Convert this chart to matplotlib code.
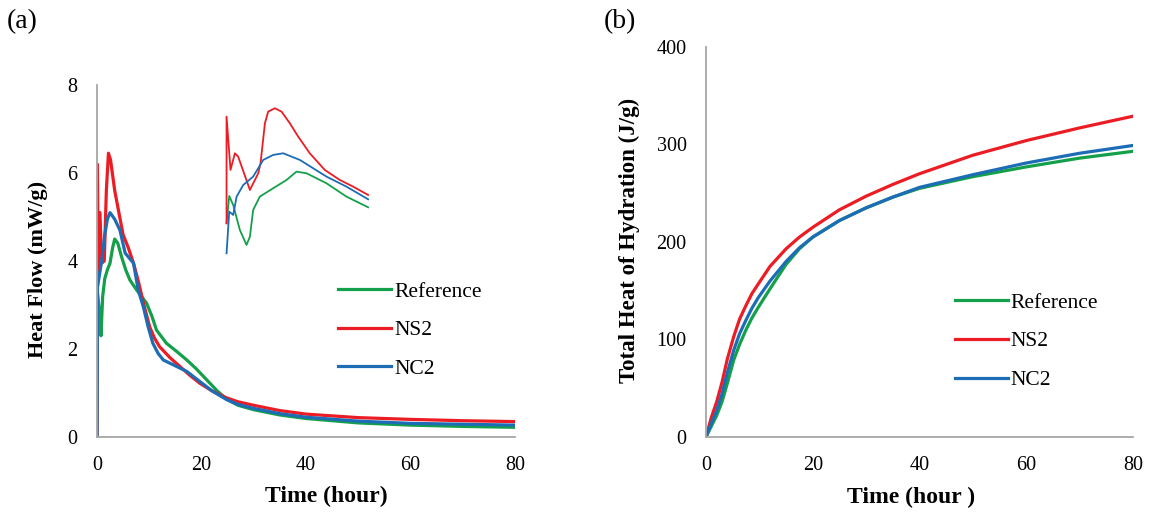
import matplotlib
matplotlib.use('Agg')
from matplotlib import pyplot as plt

plt.rcParams['font.family'] = ['Liberation Serif', 'DejaVu Serif']

labels = ['Reference', 'NS2', 'NC2']
colors = ['#14a04a', '#ec1c24', '#1c6db5']

# (a) heat flow, mW/g
t_ref = [0, 0.1, 0.45, 0.77, 1.1, 1.5, 2.0, 2.5, 3.0, 3.4, 4.0, 4.7, 5.5, 6.3, 7.6, 8.5, 9.5, 10.5,
         11.4, 13.3, 15.2, 17.2, 19.0, 21.0, 23.0, 24.8, 27, 30, 35, 40, 50, 60, 70, 80]
hf_ref = [0, 3.27, 2.9, 2.3, 3.2, 3.6, 3.8, 3.95, 4.3, 4.5, 4.4, 4.1, 3.8, 3.57, 3.34, 3.2, 3.04, 2.75,
          2.43, 2.13, 1.95, 1.75, 1.55, 1.3, 1.05, 0.86, 0.72, 0.62, 0.5, 0.42, 0.32, 0.27, 0.24, 0.22]
t_ns2 = [0, 0.08, 0.25, 0.57, 0.9, 1.4, 1.8, 2.2, 2.6, 3.4, 4.2, 5.0, 6.0, 7.0, 8.0, 8.9, 10.1,
         11.0, 12.0, 14.0, 15.9, 17.8, 19.7, 22.0, 24.8, 27, 30, 35, 40, 50, 60, 70, 80]
hf_ns2 = [0, 6.2, 3.8, 5.1, 3.95, 4.0, 5.6, 6.45, 6.3, 5.6, 5.1, 4.6, 4.3, 3.95, 3.5, 3.04, 2.5,
          2.25, 2.05, 1.8, 1.6, 1.4, 1.22, 1.05, 0.89, 0.8, 0.72, 0.6, 0.52, 0.44, 0.40, 0.37, 0.35]
t_nc2 = [0, 0.1, 0.5, 0.9, 1.5, 2.0, 2.5, 3.4, 4.4, 5.4, 7.0, 7.9, 8.9, 9.8, 10.7, 11.7, 12.7,
         14.6, 17.2, 19.7, 22.0, 24.8, 27, 30, 35, 40, 50, 60, 70, 80]
hf_nc2 = [0, 3.4, 3.7, 4.0, 4.6, 4.95, 5.1, 4.95, 4.7, 4.18, 3.95, 3.34, 2.95, 2.5, 2.13, 1.9, 1.75,
          1.64, 1.49, 1.26, 1.05, 0.85, 0.74, 0.65, 0.53, 0.45, 0.36, 0.31, 0.29, 0.27]

# inset: early-age detail
ti_ref = [0, 0.19, 0.47, 0.94, 1.41, 1.65, 1.88, 2.35, 3.29, 4.24, 4.94, 5.65, 7.06, 8.47, 10.0]
vi_ref = [1.0, 1.82, 1.55, 0.8, 0.35, 0.6, 1.4, 1.8, 2.05, 2.3, 2.55, 2.5, 2.2, 1.8, 1.48]
ti_ns2 = [0, 0, 0.28, 0.59, 0.82, 1.65, 2.24, 2.4, 2.71, 2.94, 3.41, 3.88, 4.47, 5.06, 5.88, 6.94,
          8.0, 8.94, 10.0]
vi_ns2 = [1.0, 4.2, 2.6, 3.1, 3.0, 2.0, 2.5, 2.8, 4.0, 4.35, 4.45, 4.35, 4.0, 3.6, 3.1, 2.6,
          2.3, 2.1, 1.85]
ti_nc2 = [0, 0.19, 0.47, 0.71, 1.18, 1.88, 2.59, 3.29, 4.0, 5.18, 7.06, 8.47, 10.0]
vi_nc2 = [0.1, 1.35, 1.25, 1.8, 2.15, 2.4, 2.9, 3.05, 3.1, 2.9, 2.4, 2.1, 1.72]

# (b) total heat, J/g
t_tot = [0, 1, 2, 3, 4, 5.2, 6.3, 7.5, 8.6, 9.8, 12, 15, 17.5, 20, 25, 30, 35, 40, 50, 60, 70, 80]
q_ref = [0, 11, 22, 36, 55, 79, 95, 110, 122, 133, 152, 177, 193, 205, 222, 235, 246, 255, 267, 277, 286, 293]
q_ns2 = [0, 20, 36, 56, 80, 103, 121, 135, 147, 157, 175, 193, 205, 215, 233, 247, 259, 270, 289, 304, 317, 329]
q_nc2 = [0, 14, 27, 44, 66, 89, 106, 120, 132, 143, 160, 180, 194, 205, 222, 235, 246, 256, 269, 281, 291, 299]

fig = plt.figure(figsize=(11.5, 5.18), dpi=100)
ax1 = fig.add_axes([0.0843, 0.1564, 0.3635, 0.6795])
ax2 = fig.add_axes([0.6139, 0.1564, 0.3713, 0.7529])
axi = fig.add_axes([0.197, 0.511, 0.1231, 0.28])

for t, v, lab, c in zip([t_ref, t_ns2, t_nc2], [hf_ref, hf_ns2, hf_nc2], labels, colors):
    ax1.plot(t, v, color=c, lw=2.3, label=lab)
for t, v, c in zip([ti_ref, ti_ns2, ti_nc2], [vi_ref, vi_ns2, vi_nc2], colors):
    axi.plot(t, v, color=c, lw=1.3, clip_on=False)
for v, lab, c in zip([q_ref, q_ns2, q_nc2], labels, colors):
    ax2.plot(t_tot, v, color=c, lw=2.3, label=lab)

axi.set_xlim(0, 10)
axi.set_ylim(0.1, 4.45)
axi.axis('off')

ax1.set_xlim(0, 80)
ax1.set_ylim(0, 8)
ax1.set_xticks([0, 20, 40, 60, 80])
ax1.set_yticks([0, 2, 4, 6, 8])
ax2.set_xlim(0, 80)
ax2.set_ylim(0, 400)
ax2.set_xticks([0, 20, 40, 60, 80])
ax2.set_yticks([0, 100, 200, 300, 400])

for ax in (ax1, ax2):
    for s in ['top', 'right']:
        ax.spines[s].set_visible(False)
    for s in ['left', 'bottom']:
        ax.spines[s].set_color('#a6a6a6')
        ax.spines[s].set_linewidth(1.3)
    ax.tick_params(length=0, labelsize=14.5)
    ax.tick_params(axis='y', pad=14)
    ax.tick_params(axis='x', pad=14)

ax1.set_xlabel('Time (hour)', fontsize=17, fontweight='bold')
ax1.set_ylabel('Heat Flow (mW/g)', fontsize=16, fontweight='bold')
ax1.xaxis.set_label_coords(0.548, -0.14)
ax1.yaxis.set_label_coords(-0.117, 0.475)
ax2.set_xlabel('Time (hour )', fontsize=17, fontweight='bold')
ax2.set_ylabel('Total Heat of Hydration (J/g)', fontsize=16.5, fontweight='bold')
ax2.xaxis.set_label_coords(0.48, -0.127)
ax2.yaxis.set_label_coords(-0.155, 0.505)

ax1.legend(loc='center left', bbox_to_anchor=(0.577, 0.303), frameon=False, fontsize=15.5,
           handlelength=2.45, handletextpad=0.15, labelspacing=0.85, borderpad=0, borderaxespad=0)
ax2.legend(loc='center left', bbox_to_anchor=(0.583, 0.245), frameon=False, fontsize=15.5,
           handlelength=2.45, handletextpad=0.15, labelspacing=0.87, borderpad=0, borderaxespad=0)

fig.text(0.006, 1 - 22 / 518, '(a)', fontsize=20, va='center')
fig.text(0.525, 1 - 22 / 518, '(b)', fontsize=20, va='center')

fig.savefig('out.png', dpi=100)
